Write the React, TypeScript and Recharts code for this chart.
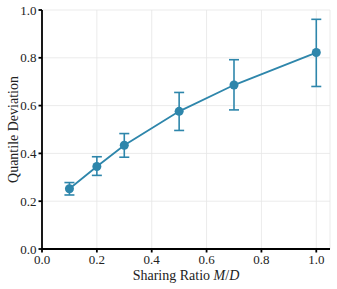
import { ComposedChart, Line, XAxis, YAxis, CartesianGrid, ErrorBar } from 'recharts';

// sharing ratio M/D vs quantile deviation, with asymmetric error bars
const ratios = [0.1, 0.2, 0.3, 0.5, 0.7, 1.0];
const deviation = [0.252, 0.345, 0.434, 0.576, 0.686, 0.822];
const errLow = [0.026, 0.037, 0.05, 0.08, 0.104, 0.142];
const errHigh = [0.026, 0.041, 0.049, 0.079, 0.106, 0.139];
const xTicks = [0, 0.2, 0.4, 0.6, 0.8, 1.0];
const yTicks = [0, 0.2, 0.4, 0.6, 0.8, 1.0];

const data = ratios.map((r, i) => ({
  ratio: r,
  dev: deviation[i],
  err: [errLow[i], errHigh[i]],
}));

const COLOR = '#2e86ab';
const FONT = '"Liberation Serif", "DejaVu Serif", serif';
const axisStroke = { stroke: '#000', strokeWidth: 1.8 };
const tickStyle = { fill: '#222', fontSize: 13, fontFamily: FONT };

const XLabel = (props: any) => {
  const { x, y, width } = props.viewBox;
  return (
    <text x={x + width / 2} y={y + 31} textAnchor="middle" fontSize={14} fontFamily={FONT} fill="#222">
      Sharing Ratio <tspan fontStyle="italic">M</tspan>/<tspan fontStyle="italic">D</tspan>
    </text>
  );
};

const YLabel = (props: any) => {
  const { y, height } = props.viewBox;
  const cx = 13;
  const cy = y + height / 2;
  return (
    <text x={cx} y={cy} textAnchor="middle" dominantBaseline="central" fontSize={14} fontFamily={FONT} fill="#222"
      transform={`rotate(-90, ${cx}, ${cy})`}>
      Quantile Deviation
    </text>
  );
};

export default function App() {
  return (
    <div style={{ position: 'absolute', left: 0, top: 0, background: '#fff' }}>
      <ComposedChart width={337} height={289} data={data} margin={{ top: 10, right: 7, left: 12, bottom: 15 }}>
        <CartesianGrid stroke="#e6e6e6" strokeWidth={0.8} />
        <XAxis dataKey="ratio" type="number" domain={[0, 1.05]} ticks={xTicks} height={25}
          tickFormatter={(v: number) => v.toFixed(1)} axisLine={axisStroke} tickLine={axisStroke}
          tickSize={3.5} tickMargin={2} tick={tickStyle} label={<XLabel />} />
        <XAxis xAxisId="top" orientation="top" type="number" domain={[0, 1.05]} height={0}
          tick={false} tickLine={false} axisLine={axisStroke} />
        <YAxis type="number" domain={[0, 1]} ticks={yTicks} width={30}
          tickFormatter={(v: number) => v.toFixed(1)} axisLine={axisStroke} tickLine={axisStroke}
          tickSize={3.5} tickMargin={2} tick={tickStyle} label={<YLabel />} />
        <YAxis yAxisId="right" orientation="right" type="number" domain={[0, 1]} width={0}
          tick={false} tickLine={false} axisLine={axisStroke} />
        <Line dataKey="dev" stroke={COLOR} strokeWidth={1.8} isAnimationActive={false}
          dot={{ r: 4.5, fill: COLOR, stroke: COLOR, strokeWidth: 0 }} activeDot={false}>
          <ErrorBar dataKey="err" width={5} stroke={COLOR} strokeWidth={1.6} direction="y" isAnimationActive={false} />
        </Line>
      </ComposedChart>
    </div>
  );
}
